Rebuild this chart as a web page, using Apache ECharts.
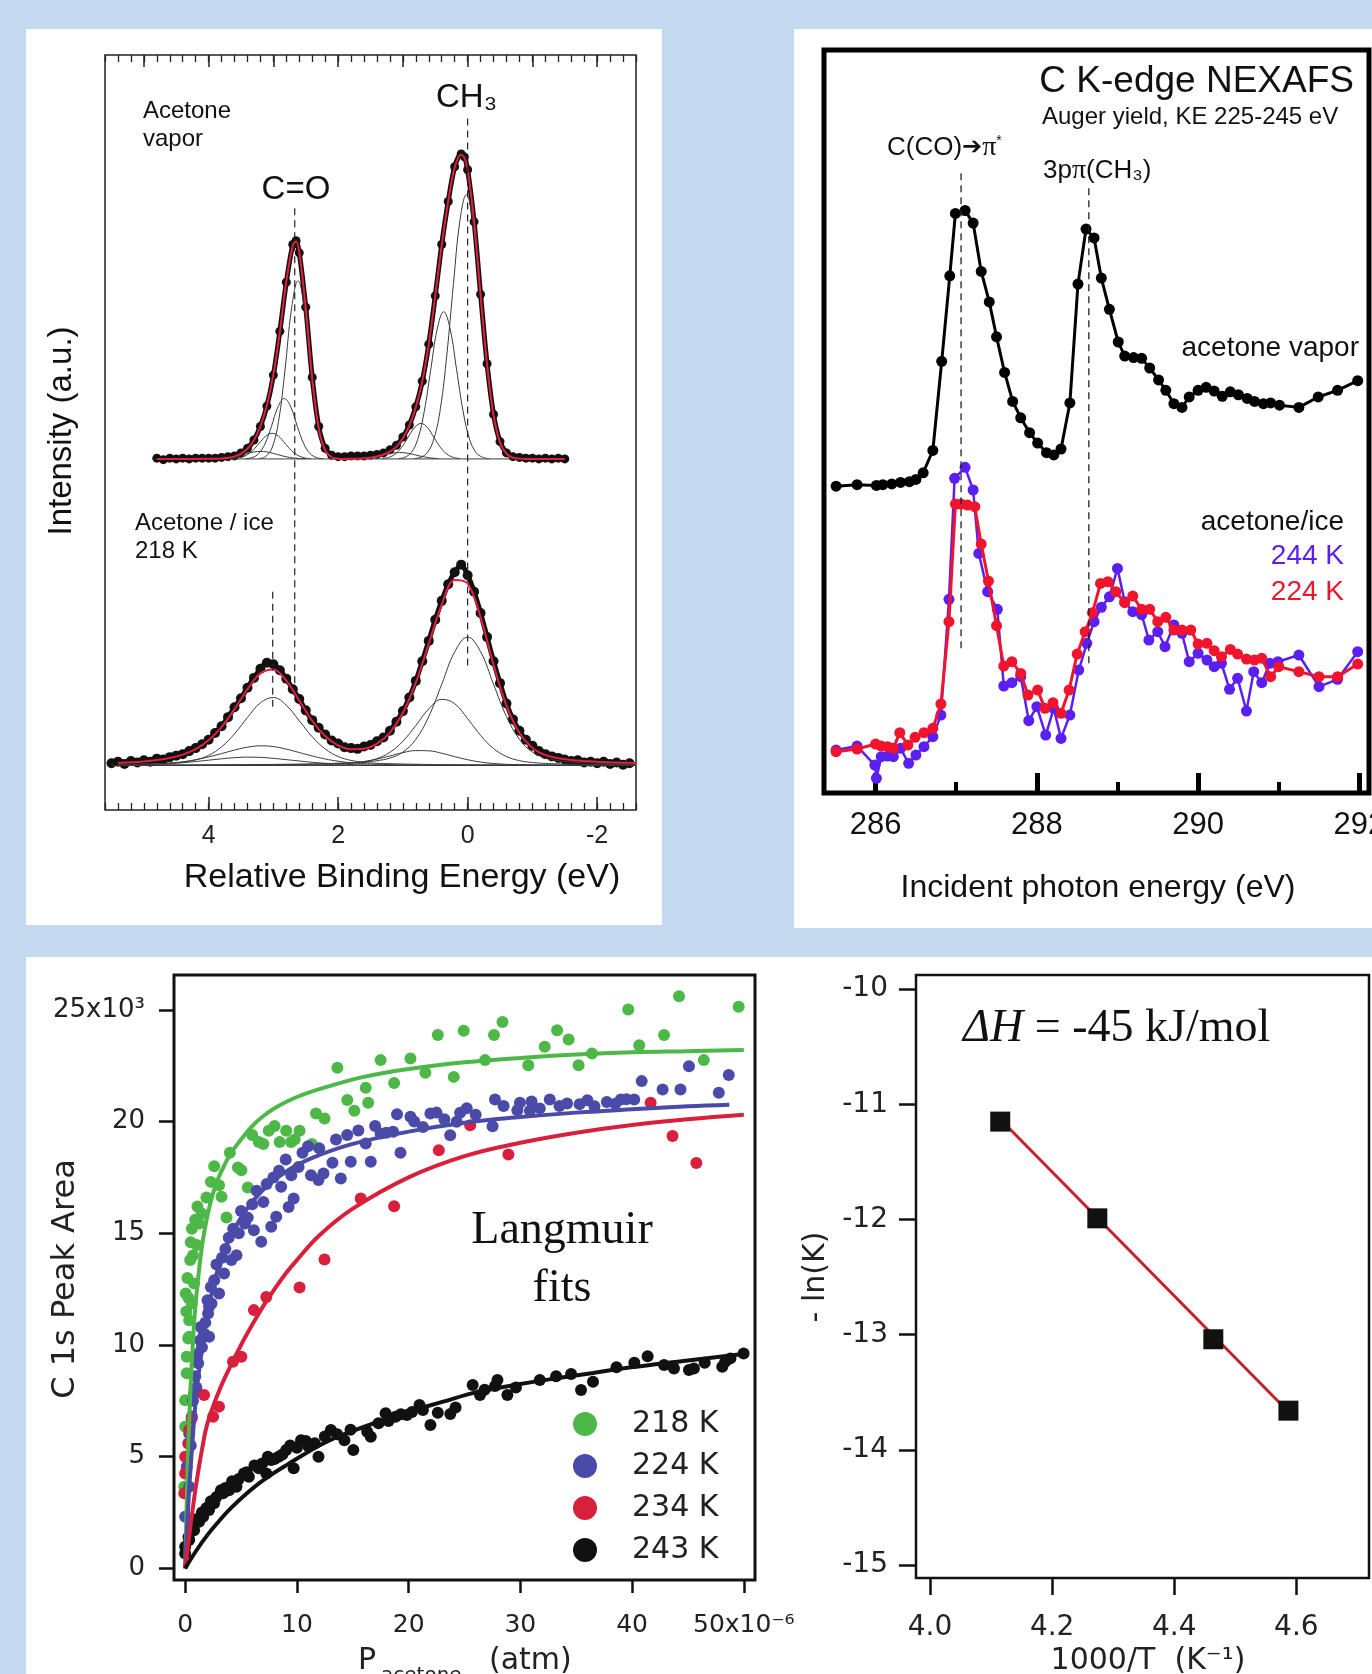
<!DOCTYPE html>
<html><head><meta charset="utf-8">
<script src="https://cdn.jsdelivr.net/npm/echarts@6/dist/echarts.min.js"></script>
<style>
html,body{margin:0;padding:0}
body{background:#c5d9f0;width:1372px;height:1674px;overflow:hidden;position:relative}
.p{position:absolute;background:#fff}
.c{position:absolute}
</style></head><body>
<div class="p" style="left:26px;top:29px;width:636px;height:896px"></div>
<div class="p" style="left:794px;top:29px;width:578px;height:899px"></div>
<div class="p" style="left:26px;top:957px;width:1346px;height:717px"></div>
<div id="c1" class="c" style="left:26px;top:29px;width:636px;height:896px"></div>
<div id="c2" class="c" style="left:794px;top:29px;width:578px;height:899px"></div>
<div id="c3" class="c" style="left:26px;top:957px;width:790px;height:717px"></div>
<div id="c4" class="c" style="left:790px;top:957px;width:582px;height:717px"></div>
<script>
const SANS='"Liberation Sans", Arial, "DejaVu Sans", sans-serif';
const DJV='"DejaVu Sans", sans-serif';
const SERIF='"Liberation Serif", "Times New Roman", serif';

/* ================= Panel 1: XPS C 1s (relative binding energy, eV) ================= */
const xpsLabelTicks=[-2,0,2,4];
const xpsTopMajorTicks=[-2,-1,0,1,2,3,4,5];
// Acetone vapor: measured points (height above spectrum baseline)
const vaporData=[[4.8,0.1],[4.7,-0.1],[4.6,0.1],[4.5,0],[4.4,0.1],[4.3,0],[4.2,0.1],[4.1,0.1],[4.0,0.1],[3.9,0.1],[3.8,0.2],[3.7,0.3],[3.6,0.4],[3.5,0.8],[3.4,1.4],[3.3,2.5],[3.2,4.3],[3.1,7.0],[3.0,11.1],[2.9,16.9],[2.8,23.4],[2.7,28.4],[2.65,28.9],[2.6,27.3],[2.5,20.1],[2.4,10.8],[2.3,4.3],[2.2,1.4],[2.1,0.5],[2.0,0.3],[1.9,0.3],[1.8,0.4],[1.7,0.4],[1.6,0.4],[1.5,0.5],[1.4,0.6],[1.3,0.8],[1.2,1.2],[1.1,1.8],[1.0,2.9],[0.9,4.5],[0.8,6.9],[0.7,10.3],[0.6,15.2],[0.5,21.6],[0.4,28.4],[0.3,34.1],[0.2,38.7],[0.1,40.4],[0.05,40.0],[0.0,38.3],[-0.1,31.4],[-0.2,21.8],[-0.3,12.6],[-0.4,5.9],[-0.5,2.3],[-0.6,0.8],[-0.7,0.3],[-0.8,0.2],[-0.9,0.1],[-1.0,0.1],[-1.1,0],[-1.2,0.1],[-1.3,0],[-1.4,0.1],[-1.5,0]];
const vaporFit=[[4.8,0],[4.0,0.01],[3.9,0.02],[3.8,0.06],[3.7,0.15],[3.6,0.33],[3.5,0.69],[3.4,1.34],[3.3,2.46],[3.2,4.31],[3.1,7.1],[3.0,11.2],[2.9,16.8],[2.8,23.5],[2.7,28.3],[2.65,28.8],[2.6,27.4],[2.5,20.0],[2.4,10.7],[2.3,4.1],[2.2,1.14],[2.1,0.22],[2.0,0.03],[1.9,0.0],[1.8,0.01],[1.7,0.03],[1.6,0.08],[1.5,0.17],[1.4,0.33],[1.3,0.59],[1.2,0.97],[1.1,1.63],[1.0,2.73],[0.9,4.42],[0.8,6.86],[0.7,10.3],[0.6,15.2],[0.5,21.6],[0.4,28.3],[0.3,34.1],[0.2,38.6],[0.1,40.3],[0.05,39.9],[0.0,38.3],[-0.1,31.4],[-0.2,21.7],[-0.3,12.5],[-0.4,5.8],[-0.5,2.2],[-0.6,0.67],[-0.7,0.17],[-0.8,0.04],[-0.9,0],[-1.5,0]];
const vaporCompA=[[3.22,0.05],[3.12,0.31],[3.02,1.48],[2.92,4.98],[2.82,11.8],[2.72,19.85],[2.62,23.6],[2.52,19.85],[2.42,11.8],[2.32,4.98],[2.22,1.48],[2.12,0.31],[2.02,0.05]];
const vaporCompB=[[3.43,0.03],[3.33,0.17],[3.23,0.68],[3.13,2.0],[3.03,4.31],[2.93,6.86],[2.83,8.0],[2.73,6.86],[2.63,4.31],[2.53,2.0],[2.43,0.68],[2.33,0.17],[2.23,0.03]];
const vaporCompC=[[3.62,0.04],[3.52,0.15],[3.42,0.46],[3.32,1.1],[3.22,2.06],[3.12,3.0],[3.02,3.4],[2.92,3.0],[2.82,2.06],[2.72,1.1],[2.62,0.46],[2.52,0.15],[2.42,0.04]];
const vaporCompD=[[3.9,0.02],[3.8,0.06],[3.7,0.14],[3.6,0.28],[3.5,0.49],[3.4,0.73],[3.3,0.92],[3.2,1.0],[3.1,0.92],[3.0,0.73],[2.9,0.49],[2.8,0.28],[2.7,0.14],[2.6,0.06],[2.5,0.02]];
const vaporCompE=[[0.82,0.05],[0.72,0.23],[0.62,0.86],[0.52,2.69],[0.42,6.7],[0.32,13.9],[0.22,23.1],[0.12,31.5],[0.02,35.0],[-0.08,31.5],[-0.18,23.1],[-0.28,13.9],[-0.38,6.7],[-0.48,2.69],[-0.58,0.86],[-0.68,0.23],[-0.78,0.05]];
const vaporCompF=[[1.07,0.04],[0.97,0.22],[0.87,0.85],[0.77,2.6],[0.67,6.3],[0.57,11.8],[0.47,17.2],[0.37,19.5],[0.27,17.2],[0.17,11.8],[0.07,6.3],[-0.03,2.6],[-0.13,0.85],[-0.23,0.22],[-0.33,0.04]];
const vaporCompG=[[1.32,0.05],[1.22,0.21],[1.12,0.63],[1.02,1.53],[0.92,2.85],[0.82,4.15],[0.72,4.7],[0.62,4.15],[0.52,2.85],[0.42,1.53],[0.32,0.63],[0.22,0.21],[0.12,0.05]];
const vaporCompH=[[1.65,0.05],[1.55,0.11],[1.45,0.24],[1.35,0.41],[1.25,0.62],[1.15,0.78],[1.05,0.85],[0.95,0.78],[0.85,0.62],[0.75,0.41],[0.65,0.24],[0.55,0.11],[0.45,0.05]];
const vaporBaseline=[[4.8,0],[-1.5,0]];
// Acetone / ice 218 K
const iceData=[[5.5,0.3],[5.4,0.5],[5.3,0.2],[5.2,0.6],[5.1,0.4],[5.0,0.7],[4.9,0.5],[4.8,0.9],[4.7,0.8],[4.6,1.1],[4.5,1.3],[4.4,1.5],[4.3,1.9],[4.2,2.3],[4.1,2.8],[4.0,3.4],[3.9,4.3],[3.8,5.2],[3.7,6.4],[3.6,7.7],[3.5,8.9],[3.4,10.3],[3.3,11.6],[3.2,12.8],[3.1,13.6],[3.0,13.4],[2.9,12.6],[2.8,11.5],[2.7,10.1],[2.6,8.8],[2.5,7.3],[2.4,6.0],[2.3,5.0],[2.2,4.1],[2.1,3.3],[2.0,2.9],[1.9,2.4],[1.8,2.3],[1.7,2.2],[1.6,2.5],[1.5,2.7],[1.4,3.2],[1.3,3.7],[1.2,4.6],[1.1,5.8],[1.0,7.2],[0.9,9.0],[0.8,11.2],[0.7,13.8],[0.6,16.5],[0.5,19.3],[0.4,21.8],[0.3,24.0],[0.2,25.6],[0.1,26.6],[0.0,25.2],[-0.1,23.0],[-0.2,20.2],[-0.3,17.0],[-0.4,13.8],[-0.5,10.9],[-0.6,8.2],[-0.7,6.1],[-0.8,4.6],[-0.9,3.4],[-1.0,2.6],[-1.1,1.9],[-1.2,1.5],[-1.3,1.2],[-1.4,1.0],[-1.5,0.8],[-1.6,0.6],[-1.7,0.7],[-1.8,0.4],[-1.9,0.5],[-2.0,0.3],[-2.1,0.5],[-2.2,0.2],[-2.3,0.4],[-2.4,0.1],[-2.5,0.3]];
const iceX=[5.4,5.2,5.0,4.8,4.6,4.4,4.2,4.0,3.8,3.6,3.4,3.2,3.0,2.8,2.6,2.4,2.2,2.0,1.8,1.6,1.4,1.2,1.0,0.8,0.6,0.4,0.2,0.0,-0.2,-0.4,-0.6,-0.8,-1.0,-1.2,-1.4,-1.6,-1.8,-2.0,-2.2,-2.4,-2.6];
const iceFit=[0.35,0.42,0.53,0.71,0.98,1.43,2.16,3.33,5.08,7.46,10.09,12.2,12.72,11.23,8.59,5.92,3.9,2.65,2.15,2.2,2.89,4.36,6.98,10.98,16.13,21.31,24.57,24.11,19.62,13.37,7.92,4.3,2.32,1.38,0.95,0.73,0.6,0.5,0.42,0.37,0.33];
const iceComp1=[0.14,0.16,0.19,0.24,0.31,0.45,0.74,1.34,2.46,4.19,6.35,8.29,9.0,7.97,5.91,3.8,2.19,1.18,0.67,0.41,0.29,0.23,0.19,0.16,0.13,0.11,0.10,0.09,0.08,0.07,0.06,0.055,0.05,0.045,0.04,0.038,0.034,0.031,0.029,0.027,0.025];
const iceComp2=[0.08,0.10,0.14,0.2,0.31,0.49,0.76,1.13,1.57,2.04,2.42,2.6,2.5,2.16,1.71,1.26,0.86,0.56,0.36,0.23,0.16,0.11,0.09,0.07,0.06,0.05,0.05,0.04,0.04,0.035,0.03,0.03,0.025,0.02,0.02,0.02,0.02,0.015,0.015,0.015,0.01];
const iceComp3=[0.05,0.07,0.11,0.16,0.24,0.36,0.52,0.7,0.88,1.03,1.1,1.07,0.94,0.77,0.59,0.42,0.29,0.19,0.12,0.08,0.06,0.04,0.03,0.03,0.025,0.02,0.02,0.02,0.015,0.015,0.015,0.01,0.01,0.01,0.01,0.01,0.01,0.01,0.01,0.01,0.01];
const iceComp4=[0.04,0.047,0.05,0.055,0.06,0.065,0.07,0.08,0.087,0.097,0.11,0.12,0.14,0.16,0.18,0.21,0.25,0.3,0.37,0.46,0.63,0.98,1.77,3.46,6.48,10.75,15.05,17.0,15.05,10.75,6.48,3.46,1.77,0.98,0.63,0.46,0.37,0.3,0.25,0.21,0.18];
const iceComp5=[0.03,0.03,0.03,0.035,0.04,0.045,0.05,0.055,0.06,0.07,0.075,0.085,0.1,0.115,0.135,0.16,0.2,0.25,0.34,0.51,0.91,1.74,3.2,5.29,7.49,8.76,8.18,6.2,3.98,2.24,1.18,0.64,0.39,0.27,0.21,0.17,0.14,0.12,0.1,0.09,0.08];
const iceComp6=[0.01,0.01,0.01,0.015,0.015,0.015,0.02,0.02,0.025,0.03,0.03,0.035,0.04,0.05,0.06,0.07,0.11,0.17,0.29,0.51,0.84,1.26,1.7,1.97,1.94,1.62,1.17,0.76,0.45,0.26,0.15,0.1,0.07,0.05,0.04,0.035,0.03,0.025,0.02,0.02,0.02];
const iceBaseline=[[5.5,0],[-2.5,0]];
// dashed peak markers: energy, and vertical extent in frame units (0 = frame bottom, 100 = top)
const xpsMarkers=[[2.67,79.7,16.0],[0.0,91.6,18.6],[3.01,28.9,13.3]];

/* ================= Panel 2: C K-edge NEXAFS ================= */
const nexMajorTicks=[286,288,290,292];
const nexMinorTicks=[287,289,291];
const nexVapor=[[285.51,41.3],[285.77,41.5],[286.01,41.4],[286.09,41.5],[286.20,41.6],[286.31,41.8],[286.42,41.9],[286.50,42.2],[286.59,43.1],[286.71,46.1],[286.82,58.1],[286.92,69.6],[286.99,78.0],[287.11,78.4],[287.21,76.7],[287.31,70.2],[287.41,66.1],[287.50,61.4],[287.60,56.6],[287.70,52.7],[287.80,50.5],[287.91,48.5],[288.01,47.1],[288.12,45.8],[288.21,45.5],[288.30,46.3],[288.41,52.5],[288.51,68.5],[288.61,75.9],[288.71,74.7],[288.80,69.3],[288.90,65.1],[289.01,60.7],[289.09,58.8],[289.20,58.6],[289.30,58.5],[289.40,57.2],[289.51,55.6],[289.60,54.2],[289.70,52.4],[289.80,51.9],[289.89,53.3],[290.00,54.2],[290.10,54.6],[290.20,54.1],[290.30,53.4],[290.40,54.0],[290.50,53.6],[290.61,53.1],[290.70,52.7],[290.81,52.4],[290.90,52.5],[291.01,52.2],[291.25,51.9],[291.49,53.3],[291.73,54.2],[291.98,55.5]];
const nex244=[[285.51,5.78],[285.77,6.32],[285.99,3.76],[286.01,1.97],[286.07,4.89],[286.15,4.98],[286.22,4.89],[286.31,6.01],[286.41,3.99],[286.50,5.11],[286.60,6.23],[286.71,7.58],[286.81,10.49],[286.91,26.06],[286.98,42.35],[287.11,43.83],[287.21,40.78],[287.28,32.25],[287.39,27.09],[287.51,24.72],[287.59,14.40],[287.69,14.85],[287.80,15.65],[287.90,9.73],[288.00,11.62],[288.11,7.80],[288.21,11.39],[288.30,7.35],[288.41,10.49],[288.52,16.55],[288.62,20.14],[288.71,23.06],[288.80,25.0],[288.90,26.4],[289.00,30.23],[289.09,25.75],[289.19,24.40],[289.30,24.0],[289.39,20.59],[289.50,21.71],[289.59,19.69],[289.70,22.61],[289.80,21.49],[289.89,17.67],[290.00,18.80],[290.11,17.90],[290.20,17.0],[290.29,17.45],[290.39,13.95],[290.49,15.43],[290.60,11.03],[290.69,16.33],[290.79,14.85],[290.89,17.45],[290.99,17.67],[291.25,18.57],[291.50,14.31],[291.73,15.30],[291.98,19.02]];
const nex224=[[285.51,5.56],[285.77,5.92],[286.00,6.59],[286.07,6.32],[286.15,6.23],[286.22,6.01],[286.30,8.12],[286.40,6.46],[286.49,7.49],[286.60,8.12],[286.71,8.70],[286.81,11.98],[286.91,23.06],[286.99,38.89],[287.06,38.89],[287.14,38.76],[287.23,38.53],[287.31,33.51],[287.40,28.53],[287.50,22.52],[287.59,17.09],[287.69,17.67],[287.80,16.10],[287.89,13.19],[288.01,13.86],[288.10,11.39],[288.20,12.15],[288.30,10.72],[288.40,13.86],[288.50,18.70],[288.60,21.71],[288.69,24.27],[288.79,28.21],[288.88,28.44],[288.98,27.09],[289.09,25.61],[289.19,26.51],[289.30,24.72],[289.40,24.72],[289.50,23.06],[289.60,23.64],[289.70,21.93],[289.80,21.93],[289.91,21.93],[290.00,20.05],[290.11,20.14],[290.20,19.15],[290.29,18.34],[290.40,19.33],[290.49,18.70],[290.60,18.03],[290.70,17.90],[290.79,18.12],[290.90,15.65],[291.00,17.0],[291.25,16.33],[291.50,15.65],[291.73,15.65],[291.98,17.36]];
const nexMarkers=[[287.06,83.4,18.8],[288.645,81.4,16.8]];

/* ================= Panel 3: Langmuir isotherms ================= */
const langXTicks=[0,10,20,30,40,50];
const langYTicks=[0,5,10,15,20,25];
const tempLabels=['218 K','224 K','234 K','243 K'];
const pts218=[[49.54,25.14],[44.20,25.61],[39.66,25.02],[42.86,23.87],[40.64,23.42],[46.42,22.75],[36.41,23.05],[35.21,22.52],[33.29,24.09],[34.32,23.67],[32.18,23.35],[30.71,22.52],[28.40,24.46],[27.64,23.87],[26.84,22.75],[24.93,24.06],[22.61,23.87],[24.04,22.0],[21.50,22.18],[20.16,22.82],[18.70,21.73],[17.49,22.75],[16.38,20.84],[16.16,21.51],[15.14,20.48],[14.51,20.96],[13.62,22.41],[12.47,20.14],[11.71,20.36],[11.35,18.99],[10.24,19.59],[9.48,19.09],[9.04,19.59],[8.46,19.09],[7.48,19.59],[6.59,19.09],[5.61,17.05],[5.03,17.82],[4.72,17.94],[3.70,15.71],[3.25,16.63],[3.03,17.15],[1.47,15.88],[1.25,15.44],[1.03,14.47],[0.80,12.75],[0.58,11.86],[0.36,11.11],[0.27,10.29],[0.14,9.47],[0.36,10.37],[0.14,8.73],[0.0,7.53],[0.0,6.34],[-0.08,3.65],[0.05,12.3],[0.1,11.5],[0.2,13.0],[0.3,12.1],[0.45,13.8],[0.5,14.6],[0.6,15.2],[0.7,14.0],[0.9,15.6],[1.1,16.2],[1.9,16.6],[2.3,17.3],[2.6,18.0],[4.0,18.6],[6.0,19.4],[7.0,19.0],[8.0,19.8],[9.8,19.2]];
const pts224=[[48.65,22.08],[47.76,21.29],[45.09,22.48],[44.33,21.44],[42.73,21.44],[40.86,21.81],[40.19,20.99],[38.99,20.99],[37.74,20.88],[36.63,20.69],[35.30,20.78],[34.18,20.81],[32.63,20.99],[31.74,20.59],[30.85,20.48],[29.96,20.84],[29.73,20.51],[27.73,20.99],[27.51,19.79],[24.61,20.39],[24.30,19.99],[23.72,19.39],[21.95,20.36],[21.28,19.76],[20.16,20.21],[19.27,18.60],[18.96,20.33],[18.61,19.54],[17.49,19.47],[16.61,18.20],[16.16,19.02],[14.82,18.20],[13.93,17.45],[13.18,18.16],[12.38,17.68],[11.93,17.38],[11.26,17.60],[10.15,17.97],[9.71,16.56],[9.26,16.18],[8.59,17.08],[8.15,15.74],[7.70,15.29],[6.81,14.62],[6.15,15.14],[5.35,15.44],[4.59,14.02],[4.14,13.80],[3.48,13.20],[3.03,12.30],[2.36,11.86],[2.05,11.41],[1.69,10.51],[1.34,10.21],[2.14,11.71],[2.14,10.37],[1.16,9.18],[0.80,7.83],[0.36,6.04],[0.14,4.55],[0.0,2.31],[0.36,3.65],[0.5,5.5],[0.6,6.8],[0.7,7.5],[0.9,8.6],[1.0,8.1],[1.1,9.6],[1.4,10.8],[1.5,9.9],[1.8,11.0],[2.0,12.0],[2.3,12.6],[2.6,12.9],[2.8,13.6],[3.3,13.9],[3.6,14.3],[3.9,14.8],[4.3,15.2],[4.8,15.0],[5.0,16.0],[5.6,15.7],[6.0,16.3],[6.4,16.9],[7.0,16.4],[7.3,17.2],[7.9,17.5],[8.4,17.8],[9.0,18.3],[9.5,17.6],[10.5,18.6],[11.0,18.9],[12.0,18.8],[13.5,19.2],[14.5,19.4],[15.5,19.6],[17.0,19.8],[18.0,19.5],[20.5,20.0],[22.5,20.4],[23.2,20.1],[25.2,20.6],[26.0,20.3],[28.5,20.7],[31.0,20.9],[33.5,20.7],[36.0,20.95],[38.5,20.8],[39.5,21.0]];
const pts234=[[41.66,20.84],[43.62,19.35],[45.75,18.15],[28.93,18.53],[25.51,19.84],[22.70,18.72],[18.70,16.21],[15.71,16.56],[12.47,13.83],[10.24,12.57],[7.26,12.15],[6.15,11.56],[5.03,9.47],[4.28,9.25],[3.03,7.24],[2.50,6.79],[1.69,7.76],[0.58,6.71],[0.36,6.19],[0.27,5.59],[0.0,5.0],[0.0,4.25],[-0.08,3.36]];
const pts243=[[49.98,9.62],[48.33,9.25],[48.07,9.03],[45.53,8.95],[45.09,8.88],[43.75,8.95],[42.86,9.10],[41.39,9.50],[36.50,8.35],[35.43,7.98],[34.54,8.70],[31.74,8.43],[28.84,7.76],[27.73,8.16],[27.95,8.43],[26.39,7.76],[25.73,8.21],[23.73,6.91],[22.61,6.97],[21.95,6.42],[21.28,7.09],[20.97,7.31],[19.85,6.86],[18.83,6.79],[17.94,6.94],[16.61,5.89],[16.29,6.12],[15.05,5.30],[14.25,5.74],[13.04,6.19],[11.93,5.00],[11.04,5.45],[10.37,5.74],[9.71,4.48],[9.04,5.30],[8.37,5.00],[7.70,4.85],[7.26,4.25],[6.59,4.48],[5.70,4.10],[5.26,4.25],[4.59,3.65],[3.92,3.50],[3.39,3.36],[2.59,2.91],[2.14,2.61],[1.61,2.31],[1.25,2.09],[0.80,1.71],[0.36,1.27],[0.0,0.97],[0.0,0.67],[0.3,1.4],[0.6,1.9],[1.0,2.2],[1.5,2.5],[1.9,2.7],[2.3,3.0],[2.8,3.2],[3.2,3.5],[3.6,3.6],[4.2,3.9],[4.8,4.0],[5.5,4.3],[6.2,4.6],[6.9,4.7],[7.4,5.0],[8.0,4.9],[8.7,5.1],[9.4,5.5],[10.0,5.4],[10.8,5.7],[11.6,5.6],[12.5,5.9],[13.6,6.0],[14.8,6.2],[17.3,6.5],[18.2,6.6],[19.3,6.9],[20.3,7.0],[24.2,7.2],[26.8,8.0],[29.6,8.1],[33.2,8.6],[38.6,9.0],[40.2,9.2],[46.5,9.2],[48.8,9.4]];
const fit218=[[0,0],[0.25,5.0],[0.5,8.3],[0.75,10.6],[1,12.2],[1.5,14.4],[2,15.8],[2.5,16.8],[3,17.5],[4,18.5],[5,19.2],[6,19.8],[7,20.25],[8,20.6],[10,21.1],[13,21.6],[16,22.0],[20,22.35],[25,22.65],[30,22.85],[35,23.0],[40,23.1],[45,23.15],[50,23.2]];
const fit224=[[0,0],[0.25,2.6],[0.5,4.6],[1,7.8],[1.5,9.8],[2,11.4],[2.5,12.6],[3,13.5],[4,14.8],[5,15.7],[6,16.4],[7,16.95],[8,17.4],[10,18.05],[12,18.5],[15,19.0],[20,19.55],[25,19.95],[30,20.2],[35,20.4],[40,20.55],[45,20.68],[48.7,20.75]];
const fit234=[[0,0],[0.5,2.0],[1,3.8],[1.5,5.3],[2,6.5],[3,7.9],[4,9.0],[5,10.0],[6,10.9],[7,11.75],[8,12.5],[9,13.2],[10,13.8],[12,14.9],[15,16.1],[20,17.5],[25,18.45],[30,19.05],[35,19.5],[40,19.85],[45,20.1],[50,20.3]];
const fit243=[[0,0],[1,0.8],[2,1.5],[3,2.1],[4,2.65],[5.5,3.35],[7,3.95],[9,4.6],[12.4,5.6],[15,6.15],[19.3,6.9],[23,7.45],[26.2,7.9],[30,8.25],[33.1,8.5],[36.5,8.75],[39.9,9.0],[45,9.3],[50.3,9.62]];

/* ================= Panel 4: van 't Hoff ================= */
const vhXTicks=[4.0,4.2,4.4,4.6];
const vhYTicks=[-15,-14,-13,-12,-11,-10];
const vhPoints=[[4.115,-11.15],[4.274,-11.99],[4.464,-13.04],[4.587,-13.66]];
const vhFit=[[4.115,-11.13],[4.587,-13.67]];

/* ---------- helpers ---------- */
function T(x,y,text,st,rot){
  const e={type:'text',x:x,y:y,silent:true,style:Object.assign({text:text,fill:'#111',fontFamily:SANS,fontSize:24,align:'left',verticalAlign:'middle'},st||{})};
  if(rot) e.rotation=rot;
  return e;
}
function thinComp(data,yi){return {type:'line',data:data,xAxisIndex:0,yAxisIndex:yi,smooth:0.4,symbol:'none',lineStyle:{color:'#3a3a3a',width:1},z:3,silent:true};}
function zip(xs,ys){return xs.map((x,i)=>[x,ys[i]]);}
function vline(m,xi,yi,w){return {type:'line',data:[[m[0],m[1]],[m[0],m[2]]],xAxisIndex:xi,yAxisIndex:yi,symbol:'none',lineStyle:{color:'#222',width:w,type:[7,5]},z:6,silent:true};}
const NOLINE={show:false,onZero:false};

/* ---------- chart 1 ---------- */
const c1=echarts.init(document.getElementById('c1'));
const xA=(pos,extra)=>Object.assign({type:'value',gridIndex:0,position:pos,min:-2.6,max:5.6,inverse:true,axisLine:NOLINE,splitLine:{show:false},axisLabel:{show:false}},extra);
c1.setOption({
  animation:false,
  grid:{left:79,top:26,width:531,height:755,show:true,borderColor:'#222',borderWidth:1.5,outerBoundsMode:'none',containLabel:false},
  xAxis:[
    xA('bottom',{interval:0.2,axisTick:{inside:true,length:7,lineStyle:{color:'#222',width:1.3}}}),
    xA('bottom',{axisTick:{inside:true,length:13,customValues:xpsLabelTicks,lineStyle:{color:'#222',width:1.5}},axisLabel:{show:true,customValues:xpsLabelTicks,fontSize:25,fontFamily:SANS,color:'#222',margin:14}}),
    xA('top',{interval:0.2,axisTick:{inside:true,length:7,lineStyle:{color:'#222',width:1.3}}}),
    xA('top',{axisTick:{inside:true,length:12,customValues:xpsTopMajorTicks,lineStyle:{color:'#222',width:1.5}}})
  ],
  yAxis:[
    {type:'value',min:-5.9,max:94.1,show:false,axisLine:NOLINE},
    {type:'value',min:-46.5,max:53.5,show:false,axisLine:NOLINE},
    {type:'value',min:0,max:100,show:false,axisLine:NOLINE}
  ],
  series:[
    {type:'line',data:vaporData,yAxisIndex:1,smooth:0.3,symbol:'circle',symbolSize:9,itemStyle:{color:'#111'},lineStyle:{color:'#111',width:5},z:2},
    thinComp(vaporCompA,1),thinComp(vaporCompB,1),thinComp(vaporCompC,1),thinComp(vaporCompD,1),
    thinComp(vaporCompE,1),thinComp(vaporCompF,1),thinComp(vaporCompG,1),thinComp(vaporCompH,1),
    thinComp(vaporBaseline,1),
    {type:'line',data:vaporFit,yAxisIndex:1,smooth:0.35,symbol:'none',lineStyle:{color:'#e0203c',width:2},z:5},
    {type:'line',data:iceData,yAxisIndex:0,smooth:0.3,symbol:'circle',symbolSize:10,itemStyle:{color:'#111'},lineStyle:{color:'#111',width:5},z:2},
    thinComp(zip(iceX,iceComp1),0),thinComp(zip(iceX,iceComp2),0),thinComp(zip(iceX,iceComp3),0),
    thinComp(zip(iceX,iceComp4),0),thinComp(zip(iceX,iceComp5),0),thinComp(zip(iceX,iceComp6),0),
    thinComp(iceBaseline,0),
    {type:'line',data:zip(iceX,iceFit),yAxisIndex:0,smooth:0.35,symbol:'none',lineStyle:{color:'#e0203c',width:2},z:5},
    vline(xpsMarkers[0],0,2,1.2),vline(xpsMarkers[1],0,2,1.2),vline(xpsMarkers[2],0,2,1.2)
  ],
  graphic:[
    T(117,82,'Acetone',{fontSize:24}),
    T(117,110,'vapor',{fontSize:24}),
    T(270,161,'C=O',{fontSize:33,align:'center'}),
    T(410,69,'CH₃',{fontSize:33}),
    T(109,494,'Acetone / ice',{fontSize:24}),
    T(109,522,'218 K',{fontSize:24}),
    T(36,402,'Intensity (a.u.)',{fontSize:33,align:'center'},Math.PI/2),
    T(376,849,'Relative Binding Energy (eV)',{fontSize:34,align:'center'})
  ]
});

/* ---------- chart 2 ---------- */
const c2=echarts.init(document.getElementById('c2'));
const nexBlue='#5b1ff2', nexRed='#f0142d';
c2.setOption({
  animation:false,
  grid:{left:30,top:21,width:545,height:743,show:true,borderColor:'#000',borderWidth:5,outerBoundsMode:'none',containLabel:false},
  xAxis:[
    {type:'value',position:'bottom',min:285.36,max:292.12,axisLine:NOLINE,splitLine:{show:false},
     axisTick:{inside:true,length:20,customValues:nexMajorTicks,lineStyle:{color:'#000',width:5}},
     axisLabel:{customValues:nexMajorTicks,fontSize:31,fontFamily:SANS,color:'#111',margin:17}},
    {type:'value',position:'bottom',min:285.36,max:292.12,axisLine:NOLINE,splitLine:{show:false},
     axisTick:{inside:true,length:11,customValues:nexMinorTicks,lineStyle:{color:'#000',width:4}},axisLabel:{show:false}}
  ],
  yAxis:{type:'value',min:0,max:100,show:false,axisLine:NOLINE},
  series:[
    {type:'line',data:nexVapor,symbol:'circle',symbolSize:11,itemStyle:{color:'#000'},lineStyle:{color:'#000',width:3},z:3},
    {type:'line',data:nex244,symbol:'circle',symbolSize:11,itemStyle:{color:nexBlue},lineStyle:{color:nexBlue,width:2.5},z:3},
    {type:'line',data:nex224,symbol:'circle',symbolSize:11,itemStyle:{color:nexRed},lineStyle:{color:nexRed,width:3},z:4},
    vline(nexMarkers[0],0,0,1.3),vline(nexMarkers[1],0,0,1.3)
  ],
  graphic:[
    T(560,53,'C K-edge NEXAFS',{fontSize:37,align:'right'}),
    T(248,88,'Auger yield, KE 225-245 eV',{fontSize:24}),
    T(93,119,'C(CO){a|➔}{p|π}{s|*}',{fontSize:26,rich:{a:{fontSize:24,fontFamily:DJV,fill:'#111'},p:{fontSize:28,fontFamily:SERIF,fill:'#111'},s:{fontSize:14,fontFamily:SANS,fill:'#111',verticalAlign:'top',lineHeight:14}}}),
    T(249,142,'3p{p|π}(CH₃)',{fontSize:26,rich:{p:{fontSize:28,fontFamily:SERIF,fill:'#111'}}}),
    T(565,319,'acetone vapor',{fontSize:28,align:'right'}),
    T(550,493,'acetone/ice',{fontSize:28,align:'right'}),
    T(550,527,'244 K',{fontSize:28,align:'right',fill:nexBlue}),
    T(550,563,'224 K',{fontSize:28,align:'right',fill:nexRed}),
    T(304,859,'Incident photon energy (eV)',{fontSize:32,align:'center'})
  ]
});

/* ---------- chart 3 ---------- */
const c3=echarts.init(document.getElementById('c3'));
const cG='#4db848', cB='#4a4aa8', cR='#d81f3c', cK='#111';
function sc(name,data,color){return {type:'scatter',name:name,data:data,symbol:'circle',symbolSize:12,itemStyle:{color:color,opacity:1},z:3};}
function fl(data,color){return {type:'line',data:data,smooth:0.4,symbol:'none',lineStyle:{color:color,width:4},z:4,silent:true};}
c3.setOption({
  animation:false,
  grid:{left:148,top:18,width:581,height:605,show:true,borderColor:'#111',borderWidth:3,outerBoundsMode:'none',containLabel:false},
  xAxis:{type:'value',min:-1,max:51,axisLine:NOLINE,splitLine:{show:false},
    axisTick:{inside:false,length:13,customValues:langXTicks,lineStyle:{color:'#111',width:2.5}},
    axisLabel:{customValues:langXTicks,fontSize:25,fontFamily:DJV,color:'#222',margin:33,formatter:v=>v===50?'50x10⁻⁶':String(v)}},
  yAxis:{type:'value',min:-0.52,max:26.56,axisLine:NOLINE,splitLine:{show:false},
    axisTick:{inside:false,length:15,customValues:langYTicks,lineStyle:{color:'#111',width:2.5}},
    axisLabel:{customValues:langYTicks,fontSize:26,fontFamily:DJV,color:'#222',margin:29,formatter:v=>v===25?'25x10³':String(v)}},
  legend:{orient:'vertical',left:542,top:447,itemWidth:84,itemHeight:24,itemGap:12,icon:'circle',selectedMode:false,
    textStyle:{fontSize:30,fontFamily:DJV,color:'#222'},data:tempLabels},
  series:[
    sc(tempLabels[0],pts218,cG),sc(tempLabels[1],pts224,cB),sc(tempLabels[2],pts234,cR),sc(tempLabels[3],pts243,cK),
    fl(fit218,cG),fl(fit224,cB),fl(fit234,cR),fl(fit243,cK)
  ],
  graphic:[
    T(40,322,'C 1s Peak Area',{fontSize:32,fontFamily:DJV,align:'center',fill:'#222'},Math.PI/2),
    T(536,274,'Langmuir',{fontSize:46,fontFamily:SERIF,align:'center'}),
    T(536,332,'fits',{fontSize:46,fontFamily:SERIF,align:'center'}),
    T(332,704,'P',{fontSize:30,fontFamily:DJV,fill:'#222'}),
    T(355,719,'acetone',{fontSize:20,fontFamily:DJV,fill:'#222'}),
    T(463,704,'(atm)',{fontSize:30,fontFamily:DJV,fill:'#222'})
  ]
});

/* ---------- chart 4 ---------- */
const c4=echarts.init(document.getElementById('c4'));
c4.setOption({
  animation:false,
  grid:{left:126,top:18,width:453,height:603,show:true,borderColor:'#111',borderWidth:2.5,outerBoundsMode:'none',containLabel:false},
  xAxis:{type:'value',min:3.977,max:4.719,axisLine:NOLINE,splitLine:{show:false},
    axisTick:{inside:false,length:17,customValues:vhXTicks,lineStyle:{color:'#111',width:2.5}},
    axisLabel:{customValues:vhXTicks,fontSize:28,fontFamily:DJV,color:'#222',margin:36,formatter:v=>v.toFixed(1)}},
  yAxis:{type:'value',min:-15.113,max:-9.877,axisLine:NOLINE,splitLine:{show:false},
    axisTick:{inside:false,length:17,customValues:vhYTicks,lineStyle:{color:'#111',width:2.5}},
    axisLabel:{customValues:vhYTicks,fontSize:28,fontFamily:DJV,color:'#222',margin:28}},
  series:[
    {type:'line',data:vhFit,symbol:'none',lineStyle:{color:'#c8202a',width:3},z:3},
    {type:'scatter',data:vhPoints,symbol:'rect',symbolSize:20,itemStyle:{color:'#111',opacity:1},z:4}
  ],
  graphic:[
    T(173,72,'{i|ΔH} = -45 kJ/mol',{fontSize:46,fontFamily:SERIF,rich:{i:{fontSize:46,fontFamily:SERIF,fontStyle:'italic',fill:'#111'}}}),
    T(26,320,'- ln(K)',{fontSize:30,fontFamily:DJV,align:'center',fill:'#222'},Math.PI/2),
    T(358,704,'1000/T  (K⁻¹)',{fontSize:30,fontFamily:DJV,align:'center',fill:'#222'})
  ]
});
</script>
</body></html>
